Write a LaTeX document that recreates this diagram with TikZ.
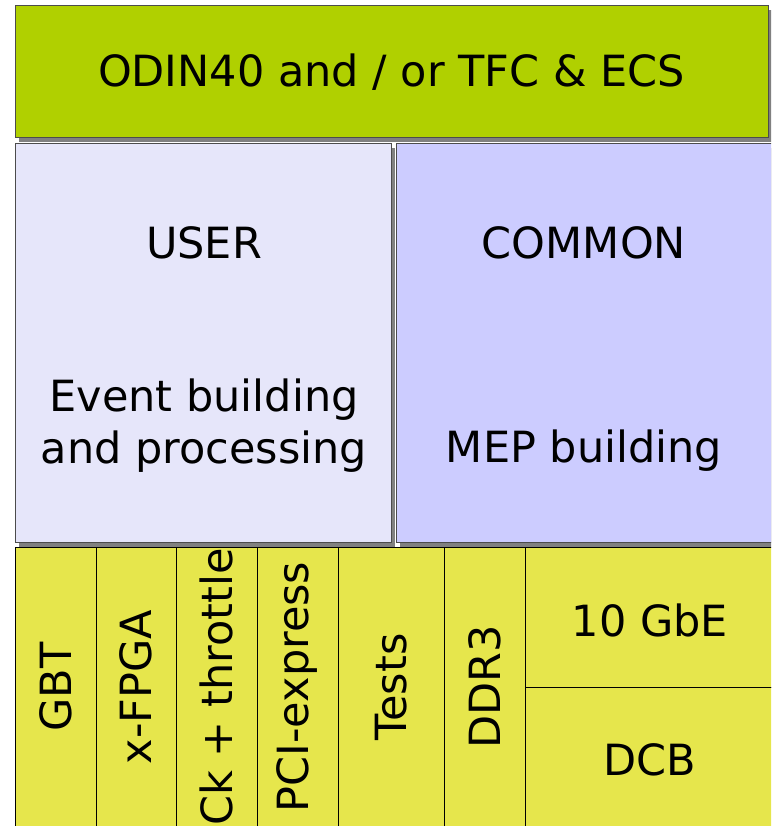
\documentclass[tikz,border=0pt]{standalone}
\usepackage{fontspec}
\setmainfont{DejaVu Sans}
\usetikzlibrary{shadows}
\definecolor{Odin}{RGB}{176, 208, 0}
\definecolor{Usr}{RGB}{230, 230, 250}
\definecolor{Cmn}{RGB}{204, 204, 255}
\definecolor{Low}{RGB}{230, 230, 76}

\begin{document}
\begin{tikzpicture}[x=1pt, y=-1pt, line join=miter,
  every node/.style={font=\fontsize{43}{52}\selectfont, inner sep=0pt},
  block/.style={draw=black!70, line width=1pt,
    drop shadow={shadow xshift=4pt, shadow yshift=-4.5pt, fill=black!50, opacity=1}},
  cell/.style={draw=black, line width=1pt, fill=Low}]
  \useasboundingbox (0,0) rectangle (771,826);
  \clip (0,0) rectangle (771,826);

  % top bar
  \node[block, fill=Odin, minimum width=753pt, minimum height=132pt] (odin) at (391.5,72) {};
  \node (odintxt) at (odin.center) {ODIN40 and / or TFC \& ECS};

  % middle blocks
  \node[block, fill=Usr, minimum width=376pt, minimum height=398pt] (user) at (203,343) {};
  \node[block, fill=Cmn, minimum width=380pt, minimum height=398pt] (common) at (586,343) {};
  \node (usertxt) at (204,243) {USER};
  \node[align=center] (evtxt) at (204,426) {Event building\\and processing};
  \node (commontxt) at (584,243) {COMMON};
  \node (meptxt) at (584,451) {MEP building};

  % Edges array
  \def\edges#1{\ifcase#1 15\or 96\or 176\or 257\or 338\or 444\or 525\fi}

  % Labels array
  \def\names#1{\ifcase#1 GBT\or x-FPGA\or Ck + throttle\or PCI-express\or Tests\or DDR3\fi}

  \foreach \i in {0,...,5}{
    \pgfmathtruncatemacro{\j}{\i+1}
    \pgfmathsetmacro{\xa}{\edges{\i}}
    \pgfmathsetmacro{\xb}{\edges{\j}}
    \draw[cell] (\xa,547) rectangle (\xb,830);
    \node[rotate=90] (col\i) at ({(\xa+\xb)/2},687) {\names{\i}};
  }

  % right column
  \draw[cell] (525,547) rectangle (775,687);
  \draw[cell] (525,687) rectangle (775,830);
  \node (gbe) at (650,620) {10 GbE};
  \node (dcb) at (650,760) {DCB};

\end{tikzpicture}
\end{document}
